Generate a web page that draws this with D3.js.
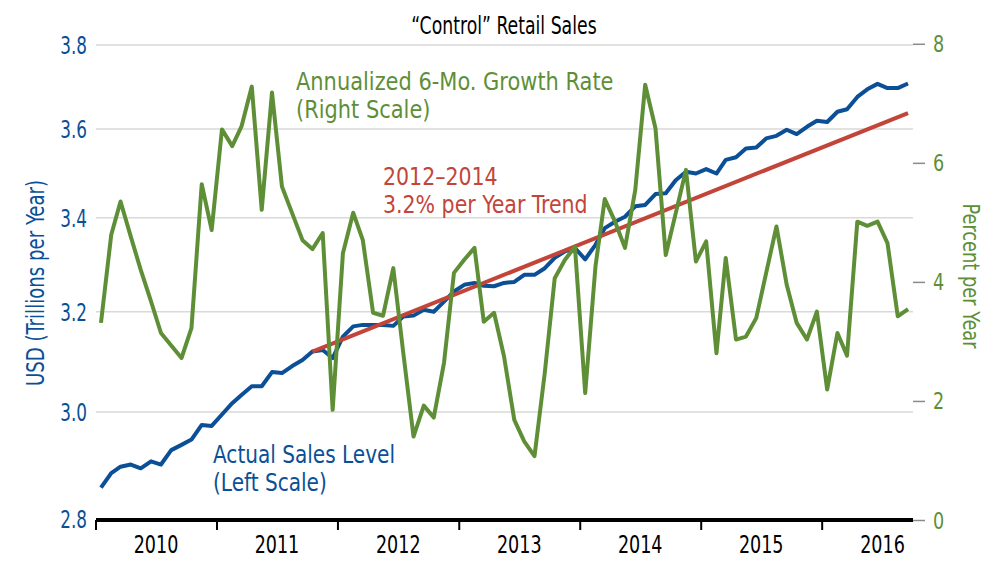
<!DOCTYPE html>
<html><head><meta charset="utf-8">
<script src="https://cdn.jsdelivr.net/npm/d3@7"></script>
<style>
html,body{margin:0;padding:0;background:#fff;}
svg{display:block;}
text{font-family:"DejaVu Sans Condensed","Liberation Sans Narrow","DejaVu Sans",sans-serif;}
</style></head>
<body><svg id="chart" width="1000" height="567"></svg>
<script>
// ---- data ----
const startMonth = new Date(2010, 0, 1);
const endMonth = new Date(2016, 9, 1);
const salesLevel = [2.857,2.884,2.896,2.900,2.893,2.906,2.900,2.927,2.937,2.947,2.975,2.973,
  2.995,3.017,3.033,3.050,3.050,3.078,3.076,3.090,3.102,3.119,3.122,3.106,
  3.149,3.170,3.173,3.173,3.173,3.171,3.190,3.192,3.204,3.200,3.221,3.242,
  3.256,3.260,3.254,3.253,3.260,3.262,3.277,3.277,3.291,3.313,3.327,3.334,
  3.310,3.341,3.377,3.391,3.402,3.425,3.428,3.452,3.454,3.483,3.502,3.498,
  3.508,3.498,3.529,3.535,3.555,3.557,3.578,3.584,3.598,3.588,3.605,3.619,
  3.616,3.640,3.646,3.675,3.693,3.706,3.696,3.696,3.707];
const growthRate = [3.32,4.80,5.36,4.77,4.21,3.68,3.15,2.94,2.73,3.23,5.65,4.88,
  6.57,6.29,6.62,7.29,5.22,7.19,5.61,5.16,4.71,4.56,4.83,1.86,
  4.49,5.17,4.71,3.49,3.44,4.24,2.82,1.41,1.93,1.73,2.65,4.16,
  4.38,4.58,3.34,3.49,2.76,1.69,1.33,1.08,2.48,4.07,4.38,4.60,
  2.14,4.27,5.40,5.02,4.58,5.55,7.32,6.59,4.46,5.16,5.89,4.35,
  4.69,2.81,4.41,3.04,3.09,3.40,4.16,4.94,3.96,3.32,3.04,3.51,
  2.20,3.15,2.77,5.02,4.95,5.02,4.66,3.43,3.55];
const trendMonths = [new Date(2011, 9, 1), new Date(2016, 8, 1)];
const trendValues = [3.119, 3.637];
const yearLabels = ["2010","2011","2012","2013","2014","2015","2016"];
const leftTicks = [2.8, 3.0, 3.2, 3.4, 3.6, 3.8];
const rightTicks = [0, 2, 4, 6, 8];

// ---- colours ----
const BLUE = "#0b4f96", GREEN = "#5e8f37", RED = "#c3453a";

const svg = d3.select("#chart");
const months = d3.timeMonth.range(startMonth, endMonth);
const mid = d => new Date(d.getFullYear(), d.getMonth(), 16);

const x = d3.scaleTime().domain([startMonth, endMonth]).range([96, 913]);
const yL = d3.scaleLog().domain([2.8, 3.8]).range([519, 45]);
const yR = d3.scaleLinear().domain([0, 8]).range([520.5, 44.3]);

// horizontal condensing to mimic a condensed face
function condense(sel, k) {
  sel.each(function () {
    const w = this.getComputedTextLength();
    d3.select(this).attr("textLength", w * k).attr("lengthAdjust", "spacingAndGlyphs");
  });
}

// gridlines
svg.append("g").selectAll("line").data(leftTicks.filter(t => t > 2.8)).join("line")
  .attr("x1", 96).attr("x2", 913)
  .attr("y1", d => yL(d)).attr("y2", d => yL(d))
  .attr("stroke", "#d9d9d9").attr("stroke-width", 1.5);

// left tick labels
svg.append("g").selectAll("text").data(leftTicks).join("text")
  .attr("x", 87).attr("y", d => yL(d) + 9)
  .attr("text-anchor", "end").attr("font-size", 24).attr("fill", BLUE)
  .text(d => d.toFixed(1))
  .call(condense, 0.78);

// right ticks
const rg = svg.append("g");
rg.selectAll("line").data(rightTicks).join("line")
  .attr("x1", 913).attr("x2", 925)
  .attr("y1", d => yR(d)).attr("y2", d => yR(d))
  .attr("stroke", "#8a8a8a").attr("stroke-width", 1.5);
rg.selectAll("text").data(rightTicks).join("text")
  .attr("x", 933).attr("y", d => yR(d) + 8)
  .attr("font-size", 23).attr("fill", GREEN)
  .text(d => d)
  .call(condense, 0.85);

// x axis
const years = yearLabels.map(s => new Date(+s, 0, 1));
svg.append("line").attr("x1", x(startMonth)).attr("x2", x(endMonth))
  .attr("y1", 520).attr("y2", 520).attr("stroke", "#000").attr("stroke-width", 4);
svg.append("g").selectAll("line").data(years).join("line")
  .attr("x1", d => x(d)).attr("x2", d => x(d))
  .attr("y1", 520).attr("y2", 530).attr("stroke", "#000").attr("stroke-width", 2);
svg.append("g").selectAll("text").data(yearLabels).join("text")
  .attr("x", d => x(new Date(+d, 6, 1)))
  .attr("y", 553).attr("text-anchor", "middle").attr("font-size", 25).attr("fill", "#000")
  .text(d => d)
  .call(condense, 0.78);

// lines
const salesLine = d3.line().x((d, i) => x(mid(months[i]))).y(d => yL(d));
svg.append("path").datum(salesLevel).attr("d", salesLine)
  .attr("fill", "none").attr("stroke", BLUE).attr("stroke-width", 4).attr("stroke-linejoin", "round");

const trendLine = d3.line().x((d, i) => x(mid(trendMonths[i]))).y(d => yL(d));
svg.append("path").datum(trendValues).attr("d", trendLine)
  .attr("fill", "none").attr("stroke", RED).attr("stroke-width", 4);

const growthLine = d3.line().x((d, i) => x(mid(months[i]))).y(d => yR(d));
svg.append("path").datum(growthRate).attr("d", growthLine)
  .attr("fill", "none").attr("stroke", GREEN).attr("stroke-width", 4).attr("stroke-linejoin", "round");

// title
svg.append("text").attr("x", 504).attr("y", 34).attr("text-anchor", "middle")
  .attr("font-size", 24).attr("fill", "#000").text("\u201CControl\u201D Retail Sales")
  .call(condense, 0.8);

// axis titles
svg.append("text").attr("transform", "translate(44,283) rotate(-90)")
  .attr("text-anchor", "middle").attr("font-size", 24).attr("fill", BLUE)
  .text("USD (Trillions per Year)")
  .call(condense, 0.84);
svg.append("text").attr("transform", "translate(963,276) rotate(90)")
  .attr("text-anchor", "middle").attr("font-size", 23).attr("fill", GREEN)
  .text("Percent per Year")
  .call(condense, 0.86);

// annotations (separate text per line)
const ann = (lines, xPos, yPos, color, k) => {
  const g = svg.append("g");
  lines.forEach((s, i) => g.append("text").attr("x", xPos).attr("y", yPos + i * 28)
    .attr("font-size", 24).attr("fill", color).text(s).call(condense, k));
};
ann(["Annualized 6-Mo. Growth Rate", "(Right Scale)"], 296, 90, GREEN, 0.97);
ann(["2012\u20132014", "3.2% per Year Trend"], 383, 185, RED, 0.95);
ann(["Actual Sales Level", "(Left Scale)"], 213, 463, BLUE, 0.93);
</script></body></html>
